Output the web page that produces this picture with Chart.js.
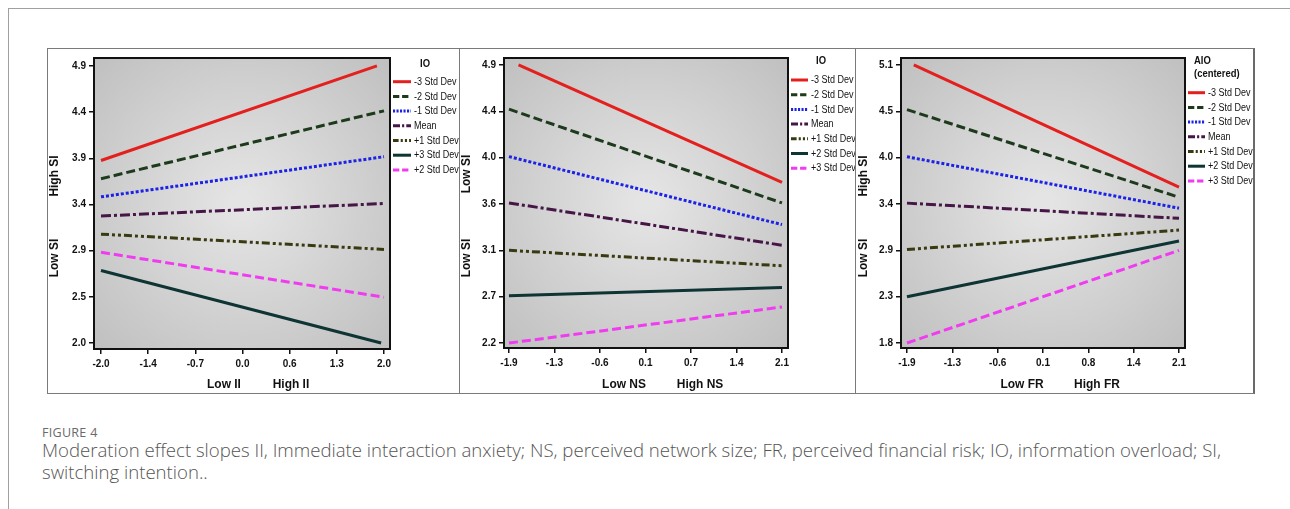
<!DOCTYPE html>
<html>
<head>
<meta charset="utf-8">
<script src="https://cdn.jsdelivr.net/npm/chart.js@4/dist/chart.umd.min.js"></script>
<style>
  body { margin: 0; background: #fff; }
  #page { position: relative; width: 1290px; height: 509px; overflow: hidden; }
  .topline { position: absolute; left: 8px; top: 8px; width: 1282px; height: 1px; background: #a0a0a0; }
  .leftline { position: absolute; left: 8px; top: 8px; width: 1px; height: 501px; background: #a0a0a0; }
  #figure { position: absolute; left: 47px; top: 48px; width: 1205px; height: 344px; border: 1px solid #7a7a7a; border-right: 2px solid #6a6a6a; }
  .sep { position: absolute; top: 0; width: 1px; height: 344px; background: #7a7a7a; }
  canvas { position: absolute; top: 0; }
  #fig-label { position: absolute; left: 42px; top: 424px; font: 12.5px "Open Sans", sans-serif; color: #6a6a6a; letter-spacing: 0.3px; }
  #caption { position: absolute; left: 42px; top: 439px; width: 1205px; font: 300 18.6px/22px "Open Sans", sans-serif; color: #555; }
</style>
</head>
<body>
<div id="page">
  <div class="topline"></div>
  <div class="leftline"></div>
  <div id="figure">
    <canvas id="canvas_ii" width="412" height="344" style="left:0px"></canvas>
    <div class="sep" style="left:411px"></div>
    <canvas id="canvas_ns" width="396" height="344" style="left:412px"></canvas>
    <div class="sep" style="left:807px"></div>
    <canvas id="canvas_fr" width="397" height="344" style="left:808px"></canvas>
  </div>
  <div id="fig-label">FIGURE 4</div>
  <div id="caption">Moderation effect slopes II, Immediate interaction anxiety; NS, perceived network size; FR, perceived financial risk; IO, information overload; SI, switching intention..</div>
</div>
<script>
// series labels
const labels_ii = ['-3 Std Dev', '-2 Std Dev', '-1 Std Dev', 'Mean', '+1 Std Dev', '+3 Std Dev', '+2 Std Dev'];
const labels_ns = ['-3 Std Dev', '-2 Std Dev', '-1 Std Dev', 'Mean', '+1 Std Dev', '+2 Std Dev', '+3 Std Dev'];
const labels_fr = ['-3 Std Dev', '-2 Std Dev', '-1 Std Dev', 'Mean', '+1 Std Dev', '+2 Std Dev', '+3 Std Dev'];

// tick labels
const xTicks_ii = ['-2.0', '-1.4', '-0.7', '0.0', '0.6', '1.3', '2.0'];
const yTicks_ii = ['2.0', '2.5', '2.9', '3.4', '3.9', '4.4', '4.9'];
const xTicks_ns = ['-1.9', '-1.3', '-0.6', '0.1', '0.7', '1.4', '2.1'];
const yTicks_ns = ['2.2', '2.7', '3.1', '3.6', '4.0', '4.4', '4.9'];
const xTicks_fr = ['-1.9', '-1.3', '-0.6', '0.1', '0.8', '1.4', '2.1'];
const yTicks_fr = ['1.8', '2.3', '2.9', '3.4', '4.0', '4.5', '5.1'];

// slope end points (low / high moderator value)
const xFrom_ii = [-2.0, -2.0, -2.0, -2.0, -2.0, -2.0, -2.0];
const xTo_ii   = [1.9, 2.0, 2.0, 2.0, 2.0, 1.96, 2.0];
const yFrom_ii = [3.91, 3.72, 3.53, 3.33, 3.14, 2.76, 2.95];
const yTo_ii   = [4.90, 4.43, 3.95, 3.46, 2.98, 2.00, 2.48];

const xFrom_ns = [-1.76, -1.9, -1.9, -1.9, -1.9, -1.9, -1.9];
const xTo_ns   = [2.1, 2.1, 2.1, 2.1, 2.1, 2.1, 2.1];
const yFrom_ns = [4.90, 4.47, 4.01, 3.56, 3.10, 2.66, 2.20];
const yTo_ns   = [3.76, 3.56, 3.35, 3.15, 2.95, 2.74, 2.55];

const xFrom_fr = [-1.8, -1.9, -1.9, -1.9, -1.9, -1.9, -1.9];
const xTo_fr   = [2.1, 2.1, 2.1, 2.1, 2.1, 2.1, 2.1];
const yFrom_fr = [5.10, 4.57, 4.01, 3.46, 2.91, 2.35, 1.80];
const yTo_fr   = [3.65, 3.53, 3.40, 3.28, 3.14, 3.01, 2.90];

// line styles by legend position
const colors_main = ['#e3201e', '#1d3a1d', '#1b22e6', '#461646', '#3a3a12', '#0f3434', '#f03cf0'];
const dashes_main = [[], [9, 4], [3, 2], [10, 3, 3, 3], [8, 3, 3, 3, 3, 3], [], [9, 4]];

const FONT = '"Liberation Sans", Arial, sans-serif';

function makeDatasets(labels, xFrom, xTo, yFrom, yTo) {
  return labels.map((lab, i) => ({
    label: lab,
    data: [{x: xFrom[i], y: yFrom[i]}, {x: xTo[i], y: yTo[i]}],
    borderColor: colors_main[i],
    backgroundColor: colors_main[i],
    borderDash: dashes_main[i],
    borderWidth: 3,
    pointRadius: 0,
    tension: 0,
  }));
}

function evenTicks(tickLabels) {
  return function (scale) {
    const lo = parseFloat(tickLabels[0]);
    const hi = parseFloat(tickLabels[tickLabels.length - 1]);
    const n = tickLabels.length - 1;
    scale.ticks = tickLabels.map((t, i) => ({value: lo + i * (hi - lo) / n}));
  };
}

// narrow text, like the condensed SPSS font
function narrowText(ctx, text, x, y, sx) {
  ctx.save();
  ctx.translate(x, y);
  ctx.scale(sx, 1);
  ctx.fillText(text, 0, 0);
  ctx.restore();
}

// background gradient + frame + titles + legend
const panelPlugin = {
  id: 'panel',
  beforeDatasetsDraw(chart) {
    const {ctx, chartArea: a} = chart;
    const cx = (a.left + a.right) / 2, cy = (a.top + a.bottom) / 2;
    const g = ctx.createRadialGradient(cx, cy, 10, cx, cy, Math.max(a.width, a.height) * 0.75);
    g.addColorStop(0, '#e4e4e4');
    g.addColorStop(1, '#bdbdbd');
    ctx.save();
    ctx.fillStyle = g;
    ctx.fillRect(a.left, a.top, a.width, a.height);
    ctx.restore();
  },
  afterDraw(chart, args, o) {
    const {ctx, chartArea: a} = chart;
    ctx.save();
    ctx.strokeStyle = '#111';
    ctx.lineWidth = 2;
    ctx.strokeRect(a.left, a.top, a.width, a.height);

    // y axis titles
    ctx.fillStyle = '#111';
    ctx.font = 'bold 13px ' + FONT;
    ctx.textAlign = 'center';
    ctx.textBaseline = 'middle';
    [[o.yTop, o.yTopY], [o.yBottom, o.yBottomY]].forEach(([t, y]) => {
      ctx.save();
      ctx.translate(o.yTitleX, y);
      ctx.rotate(-Math.PI / 2);
      ctx.scale(0.92, 1);
      ctx.fillText(t, 0, 0);
      ctx.restore();
    });
    // x axis titles
    narrowText(ctx, o.xLow, o.xLowX, o.xTitleY, 0.92);
    narrowText(ctx, o.xHigh, o.xHighX, o.xTitleY, 0.92);

    // legend
    ctx.font = 'bold 10.5px ' + FONT;
    ctx.textAlign = o.titleAlign;
    o.legendTitle.forEach((t, i) => narrowText(ctx, t, o.titleX, o.titleY + i * 13, 0.9));
    ctx.font = '10px ' + FONT;
    ctx.textAlign = 'left';
    chart.data.datasets.forEach((ds, i) => {
      const y = o.legendY + i * 14.7;
      ctx.strokeStyle = ds.borderColor;
      ctx.lineWidth = 3;
      ctx.setLineDash(ds.borderDash.length ? ds.borderDash.map(d => d * 0.7) : []);
      ctx.beginPath();
      ctx.moveTo(o.sampleX0, y);
      ctx.lineTo(o.sampleX1, y);
      ctx.stroke();
      ctx.setLineDash([]);
      ctx.fillStyle = '#111';
      narrowText(ctx, ds.label, o.sampleX1 + 3, y + 0.5, 0.9);
    });
    ctx.restore();
  }
};

function makeChart(canvasId, datasets, xTicks, yTicks, xr, yr, box, panelOpts) {
  const canvas = document.getElementById(canvasId);
  const W = canvas.width, H = canvas.height;
  return new Chart(canvas, {
    type: 'line',
    data: {datasets: datasets},
    plugins: [panelPlugin],
    options: {
      responsive: false,
      animation: false,
      devicePixelRatio: 1,
      layout: {padding: {left: 0, top: box.top, right: W - box.right, bottom: 0}},
      plugins: {legend: {display: false}, tooltip: {enabled: false}, panel: panelOpts},
      scales: {
        x: {
          type: 'linear', min: xr[0], max: xr[1],
          afterBuildTicks: evenTicks(xTicks),
          afterFit: s => { s.height = H - box.bottom; },
          grid: {drawOnChartArea: false, drawTicks: true, tickLength: 5, color: '#111', lineWidth: 1.5},
          border: {display: false},
          ticks: {
            color: '#111', padding: 4, maxRotation: 0, autoSkip: false,
            font: {family: FONT, size: 10, weight: 'bold'},
            callback: (v, i) => xTicks[i]
          }
        },
        y: {
          type: 'linear', min: yr[0], max: yr[1],
          afterBuildTicks: evenTicks(yTicks),
          afterFit: s => { s.width = box.left; },
          grid: {drawOnChartArea: false, drawTicks: true, tickLength: 5, color: '#111', lineWidth: 1.5},
          border: {display: false},
          ticks: {
            color: '#111', padding: 3, autoSkip: false,
            font: {family: FONT, size: 10, weight: 'bold'},
            callback: (v, i) => yTicks[i]
          }
        }
      }
    }
  });
}

// II panel
makeChart('canvas_ii', makeDatasets(labels_ii, xFrom_ii, xTo_ii, yFrom_ii, yTo_ii),
  xTicks_ii, yTicks_ii, [-2.099, 2.085], [1.938, 4.983],
  {left: 46, right: 342, top: 7, bottom: 300},
  {yTitleX: 6, yTop: 'High SI', yTopY: 127, yBottom: 'Low SI', yBottomY: 209,
   xLow: 'Low II', xLowX: 176, xHigh: 'High II', xHighX: 243, xTitleY: 335,
   legendTitle: ['IO'], titleAlign: 'center', titleX: 377, titleY: 15,
   legendY: 32.7, sampleX0: 345, sampleX1: 363});

// NS panel
makeChart('canvas_ns', makeDatasets(labels_ns, xFrom_ns, xTo_ns, yFrom_ns, yTo_ns),
  xTicks_ns, yTicks_ns, [-1.973, 2.188], [2.152, 4.967],
  {left: 44, right: 328, top: 6, bottom: 299},
  {yTitleX: 6, yTop: 'Low SI', yTopY: 125, yBottom: 'Low SI', yBottomY: 209,
   xLow: 'Low NS', xLowX: 164, xHigh: 'High NS', xHighX: 240, xTitleY: 335,
   legendTitle: ['IO'], titleAlign: 'center', titleX: 361, titleY: 12,
   legendY: 31, sampleX0: 331, sampleX1: 348});

// FR panel
makeChart('canvas_fr', makeDatasets(labels_fr, xFrom_fr, xTo_fr, yFrom_fr, yTo_fr),
  xTicks_fr, yTicks_fr, [-1.988, 2.188], [1.741, 5.182],
  {left: 45, right: 329, top: 6, bottom: 299},
  {yTitleX: 7, yTop: 'High SI', yTopY: 127, yBottom: 'Low SI', yBottomY: 209,
   xLow: 'Low FR', xLowX: 166, xHigh: 'High FR', xHighX: 241, xTitleY: 335,
   legendTitle: ['AIO', '(centered)'], titleAlign: 'left', titleX: 338, titleY: 12,
   legendY: 43.7, sampleX0: 332, sampleX1: 349});
</script>
</body>
</html>
